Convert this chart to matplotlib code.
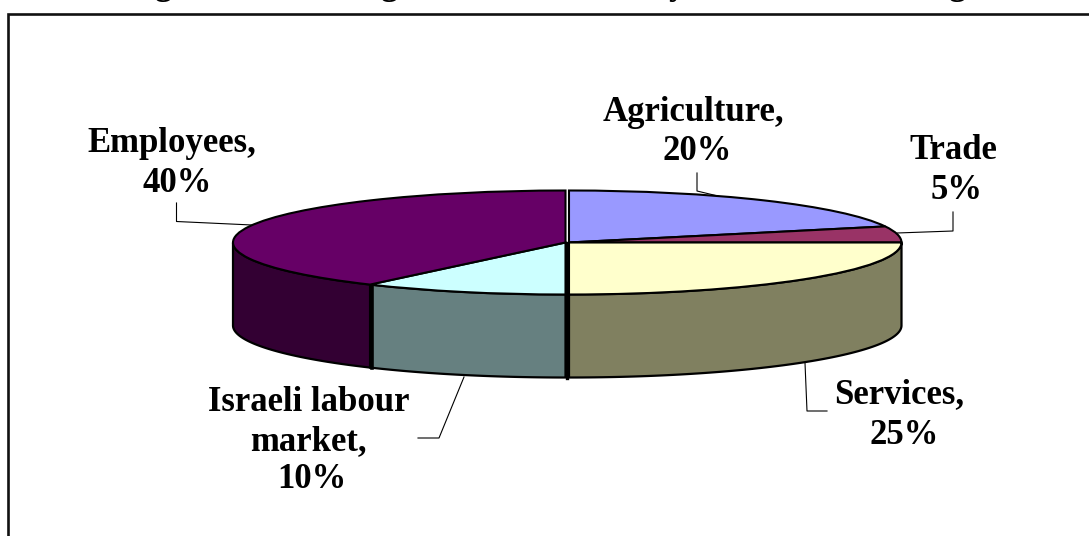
import numpy as np
import matplotlib
matplotlib.use("Agg")
import matplotlib.pyplot as plt
from matplotlib.patches import Polygon
from matplotlib.transforms import Affine2D

plt.rcParams["font.family"] = ["Liberation Serif", "DejaVu Serif"]

# Data
sectors = ["Agriculture", "Trade", "Services", "Israeli labour market", "Employees"]
shares = [20, 5, 25, 10, 40]
top_colors = ["#9999FF", "#993366", "#FFFFCC", "#CCFFFF", "#660066"]
side_colors = ["#4C4C80", "#4C1933", "#808060", "#668080", "#330033"]
label_lines = [
    ["Agriculture,", "20%"],
    ["Trade", "5%"],
    ["Services,", "25%"],
    ["Israeli labour", "market,", "10%"],
    ["Employees,", "40%"],
]

# Layout, all in image pixels
label_x = [[693, 697], [953, 957], [899, 904], [309, 308, 312], [172, 177]]
label_y = [[121, 160], [159, 199], [403, 444], [411, 450, 488], [152, 192]]
leaders = [
    [(697, 173), (697, 191), (722, 197)],
    [(953, 212), (953, 231), (897, 233)],
    [(805, 363), (807, 411), (827, 411)],
    [(464, 377), (439, 438), (418, 438)],
    [(176.5, 203), (176.5, 221.5), (252, 225)],
]
centers_x = [569, 569, 569, 565.5, 565.5]
center_y = 242.5
rx, ry = 332.5, 52
depth = 83

# Only the feet of the cut-off title show at the top edge
title_feet = ["g", "g", "y", "g"]
title_feet_x = [163, 389, 677, 957]

fig = plt.figure(figsize=(10.89, 5.36), dpi=100)
ax = fig.add_axes([0, 0, 1, 1])

wedges, _ = ax.pie(
    shares,
    startangle=90,
    counterclock=False,
    colors=top_colors,
    wedgeprops={"edgecolor": "black", "linewidth": 1.5, "zorder": 3},
)
for w, cx in zip(wedges, centers_x):
    w.set_transform(Affine2D().scale(rx, -ry).translate(cx, center_y) + ax.transData)

ax.set_aspect("auto")
ax.set_xlim(0, 1089)
ax.set_ylim(536, 0)
ax.set_axis_off()

# Side wall: only the part of each slice facing the viewer
ends = np.cumsum(shares) / sum(shares) * 360
starts = np.concatenate([[0], ends[:-1]])
for start, end, color, cx in zip(starts, ends, side_colors, centers_x):
    a = max(start, 90)
    b = min(end, 270)
    if b <= a:
        continue
    t = np.radians(np.linspace(a, b, 80))
    x = cx + rx * np.sin(t)
    y = center_y - ry * np.cos(t)
    pts = np.concatenate([np.column_stack([x, y]), np.column_stack([x, y + depth])[::-1]])
    ax.add_patch(Polygon(pts, closed=True, facecolor=color, edgecolor="black", linewidth=1.6, zorder=2))
    # heavy seam between the two left walls
    if a > 180:
        ax.plot([x[0] + 1.5, x[0] + 1.5], [y[0], y[0] + depth], color="black", linewidth=2.6, zorder=2.5)

# Heavy seam down the middle, below the pie centre
ax.plot([567.3, 567.3], [center_y, center_y + ry + depth], color="black", linewidth=2.4, zorder=4)

# Leader lines
for pts in leaders:
    ax.plot([p[0] for p in pts], [p[1] for p in pts], color="black", linewidth=0.8, zorder=1)

# Labels
for lines, xs, ys in zip(label_lines, label_x, label_y):
    for line, x, y in zip(lines, xs, ys):
        ax.text(x, y, line, ha="center", va="baseline", fontsize=25, fontweight="bold", color="black")

for ch, x in zip(title_feet, title_feet_x):
    ax.text(x, -5.5, ch, ha="center", va="baseline", fontsize=25, fontweight="bold", color="black", clip_on=False)

# Frame, open on the right and at the bottom
ax.plot([8, 8, 1089], [536, 14, 14], color="#111111", linewidth=1.9, solid_joinstyle="miter", zorder=1)

fig.savefig("out.png", dpi=100)
